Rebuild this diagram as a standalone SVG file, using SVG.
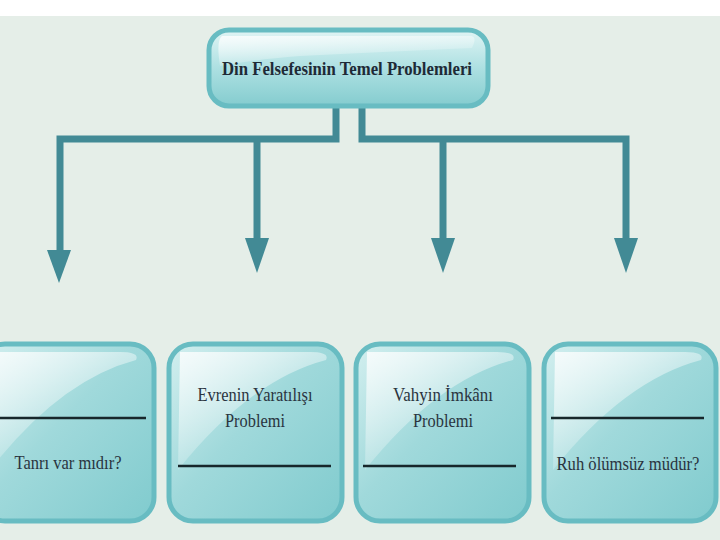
<svg xmlns="http://www.w3.org/2000/svg" width="720" height="540" viewBox="0 0 720 540">
<defs>
<linearGradient id="fill" x1="0" y1="0" x2="1" y2="1">
<stop offset="0" stop-color="#d3efef"/>
<stop offset="0.45" stop-color="#a0d9db"/>
<stop offset="1" stop-color="#80cbce"/>
</linearGradient>
<linearGradient id="gloss" x1="0" y1="0" x2="0.6" y2="1">
<stop offset="0" stop-color="#ffffff" stop-opacity="0.8"/>
<stop offset="1" stop-color="#ffffff" stop-opacity="0"/>
</linearGradient>
<linearGradient id="tfill" x1="0" y1="0" x2="0" y2="1">
<stop offset="0" stop-color="#e0f4f4"/>
<stop offset="0.5" stop-color="#ade0e2"/>
<stop offset="1" stop-color="#84cccf"/>
</linearGradient>
</defs>
<style>
.box{fill:url(#fill);stroke:#68bcc2;stroke-width:5}
.gl{fill:url(#gloss)}
.conn{fill:none;stroke:#428a95;stroke-width:7;stroke-linejoin:miter}
.head{fill:#428a95}
.t{font-family:"Liberation Serif","Times New Roman",serif;font-size:18px;fill:#2a3440;text-anchor:middle}
.tb{font-family:"Liberation Serif","Times New Roman",serif;font-size:19px;font-weight:bold;fill:#1e2a36;text-anchor:middle}
.rule{stroke:#17272b;stroke-width:2.5}
</style>
<rect width="720" height="540" fill="#e5eee8"/>
<rect width="720" height="16" fill="#ffffff"/>

<g id="connectors">
<path class="conn" d="M336,106 V139 H60 V250"/>
<path class="conn" d="M362,106 V139 H626 V240"/>
<path class="conn" d="M257,139 V240"/>
<path class="conn" d="M443,139 V240"/>
<path class="head" d="M47,250 L71,250 L59,283 Z"/>
<path class="head" d="M245,238 L269,238 L257,273 Z"/>
<path class="head" d="M431,238 L455,238 L443,273 Z"/>
<path class="head" d="M614,238 L638,238 L626,273 Z"/>
</g>

<g id="top">
<rect class="box" x="209" y="30" width="279" height="76" rx="20" style="fill:url(#tfill)"/>
<path class="gl" d="M222,36 H470 Q478,36 472,48 Q380,52 300,56 Q250,60 220,66 Q216,40 222,36 Z"/>
<text class="tb" x="347" y="75" textLength="250" lengthAdjust="spacingAndGlyphs">Din Felsefesinin Temel Problemleri</text>
</g>

<g id="n1">
<rect class="box" x="-19" y="344" width="173" height="177" rx="24"/>
<path class="gl" d="M-10,352 H120 Q140,352 136,360 Q60,380 -10,470 Z"/>
<line class="rule" x1="0" y1="418" x2="146" y2="418"/>
<text class="t" x="68" y="469" textLength="107" lengthAdjust="spacingAndGlyphs">Tanrı var mıdır?</text>
</g>

<g id="n2">
<rect class="box" x="169" y="344" width="173" height="177" rx="24"/>
<path class="gl" d="M180,352 H310 Q330,352 326,360 Q250,380 178,470 Z"/>
<text class="t" x="255" y="401" textLength="115" lengthAdjust="spacingAndGlyphs">Evrenin Yaratılışı</text>
<text class="t" x="255" y="427" textLength="60" lengthAdjust="spacingAndGlyphs">Problemi</text>
<line class="rule" x1="178" y1="466" x2="331" y2="466"/>
</g>

<g id="n3">
<rect class="box" x="356" y="344" width="173" height="177" rx="24"/>
<path class="gl" d="M367,352 H497 Q517,352 513,360 Q437,380 365,470 Z"/>
<text class="t" x="443" y="401" textLength="100" lengthAdjust="spacingAndGlyphs">Vahyin İmkânı</text>
<text class="t" x="443" y="427" textLength="60" lengthAdjust="spacingAndGlyphs">Problemi</text>
<line class="rule" x1="363" y1="466" x2="516" y2="466"/>
</g>

<g id="n4">
<rect class="box" x="544" y="344" width="172" height="177" rx="24"/>
<path class="gl" d="M555,352 H685 Q705,352 701,360 Q625,380 553,470 Z"/>
<line class="rule" x1="551" y1="418" x2="704" y2="418"/>
<text class="t" x="628" y="470" textLength="143" lengthAdjust="spacingAndGlyphs">Ruh ölümsüz müdür?</text>
</g>
</svg>
